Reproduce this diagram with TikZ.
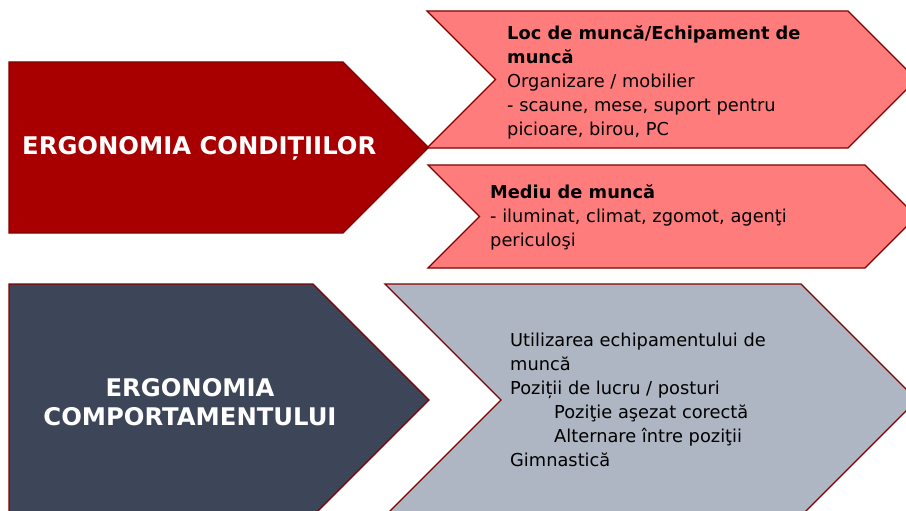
\documentclass[tikz,border=0pt]{standalone}
\usepackage{fontspec}
\setmainfont{DejaVu Sans}
\usepackage{tikz}

\definecolor{condred}{HTML}{A80000}
\definecolor{lightred}{HTML}{FF7C7C}
\definecolor{slate}{HTML}{3D4559}
\definecolor{greyblue}{HTML}{ADB6C2}
\definecolor{edgered}{HTML}{800000}

\begin{document}
\begin{tikzpicture}[
        x=1pt, y=-1pt,
        panel/.style={draw=edgered, line width=1.4pt, line join=miter},
        titletext/.style={text=white, font=\fontsize{24.3}{29}\selectfont\bfseries, inner sep=0pt},
        bodytext/.style={anchor=north west, align=left, inner sep=0pt, font=\fontsize{17.8}{24}\selectfont}
    ]

        % Frame of the slide
        \useasboundingbox (0,0) rectangle (906,511);
        \clip (0,0) rectangle (906,511);

        % Upper block: conditions
        \draw[panel, fill=condred] (9,62) -- (343,62) -- (428.5,147.5) -- (343,233) -- (9,233) -- cycle;
        \draw[panel, fill=lightred] (427,11) -- (848,11) -- (916.5,79.5) -- (848,148) -- (427,148) -- (495.5,79.5) -- cycle;
        \draw[panel, fill=lightred] (428,165) -- (865,165) -- (916.5,216.5) -- (865,268) -- (428,268) -- (479.5,216.5) -- cycle;

        % Lower block: behaviour
        \draw[panel, fill=slate] (9,284) -- (313,284) -- (429,400) -- (313,516) -- (9,516) -- cycle;
        \draw[panel, fill=greyblue] (385,284) -- (801,284) -- (917,400) -- (801,516) -- (385,516) -- (501,400) -- cycle;

        % Titles
        \node[titletext, anchor=west] (cond) at (22,148) {ERGONOMIA CONDIȚIILOR};
        \node[titletext, align=center] (comp) at (190,402) {ERGONOMIA\\COMPORTAMENTULUI};

        % Texts in the chevrons
        \node[bodytext] (loc) at (507,25) {\textbf{Loc de muncă/Echipament de}\\\textbf{muncă}\\Organizare / mobilier\\- scaune, mese, suport pentru\\picioare, birou, PC};
        \node[bodytext] (mediu) at (490,184) {\textbf{Mediu de muncă}\\- iluminat, climat, zgomot, agenţi\\periculoşi};
        \node[bodytext] (util) at (510,333) {Utilizarea echipamentului de\\muncă\\Poziții de lucru / posturi\\\hspace*{44pt}Poziţie aşezat corectă\\\hspace*{44pt}Alternare între poziţii\\Gimnastică};

    \end{tikzpicture}
\end{document}
